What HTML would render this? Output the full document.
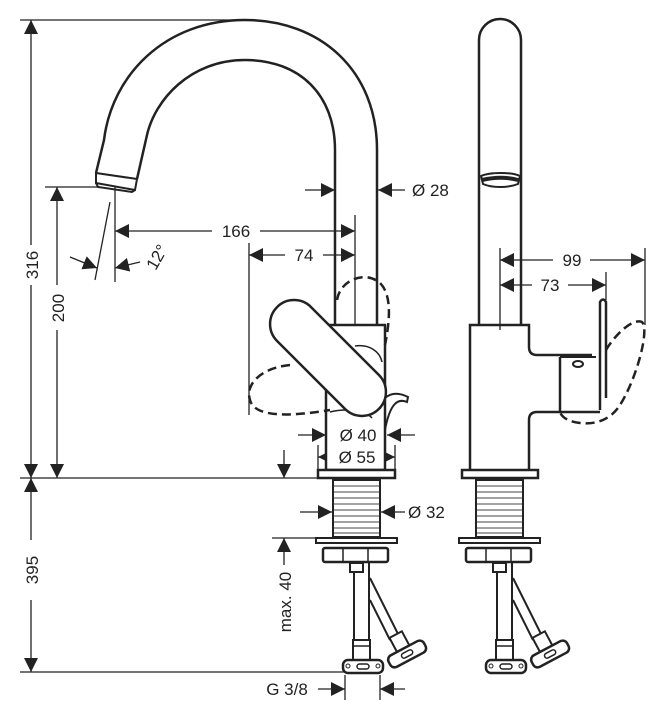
<!DOCTYPE html>
<html><head><meta charset="utf-8"><style>
html,body{margin:0;padding:0;background:#fff;}
svg{display:block;}
text{font-family:"Liberation Sans",sans-serif;font-size:17px;fill:#222;}
</style></head><body>
<svg width="665" height="720" viewBox="0 0 665 720" xmlns="http://www.w3.org/2000/svg">
<defs>
<marker id="a" viewBox="0 0 10 10" refX="10" refY="5" markerWidth="14" markerHeight="14" markerUnits="userSpaceOnUse" orient="auto-start-reverse"><path d="M0,0 L10,5 L0,10 z" fill="#222"/></marker>
<g id="shank">
<rect x="333" y="480" width="47" height="57" fill="#fff" stroke="#222" stroke-width="2"/>
<g stroke="#444" stroke-width="1">
<line x1="334" y1="486" x2="379" y2="486"/><line x1="334" y1="492" x2="379" y2="492"/><line x1="334" y1="498" x2="379" y2="498"/><line x1="334" y1="504" x2="379" y2="504"/><line x1="334" y1="510" x2="379" y2="510"/><line x1="334" y1="516" x2="379" y2="516"/><line x1="334" y1="522" x2="379" y2="522"/><line x1="334" y1="528" x2="379" y2="528"/><line x1="334" y1="533" x2="379" y2="533"/>
</g>
<rect x="316" y="538" width="81" height="5" fill="#fff" stroke="#222" stroke-width="2"/>
<rect x="323" y="548" width="65" height="14" rx="2" fill="#fff" stroke="#222" stroke-width="2.5"/>
<line x1="343" y1="548" x2="343" y2="562" stroke="#222" stroke-width="1.5"/><line x1="368" y1="548" x2="368" y2="562" stroke="#222" stroke-width="1.5"/>
<rect x="350" y="563" width="13" height="9" fill="#fff" stroke="#222" stroke-width="2"/>
<line x1="354" y1="572" x2="354" y2="640" stroke="#222" stroke-width="2"/><line x1="369" y1="563" x2="369" y2="640" stroke="#222" stroke-width="2"/>
<rect x="353" y="640" width="17" height="20" fill="#fff" stroke="#222" stroke-width="2"/>
<line x1="353" y1="646" x2="370" y2="646" stroke="#222" stroke-width="1.5"/>
<rect x="343" y="660" width="40" height="13" rx="5" fill="#fff" stroke="#222" stroke-width="2.5"/>
<rect x="357" y="664" width="12" height="5" rx="2.5" fill="none" stroke="#222" stroke-width="1.5"/>
<circle cx="348" cy="666" r="2" fill="none" stroke="#222"/><circle cx="378" cy="666" r="2" fill="none" stroke="#222"/>
<path d="M370,578 L399,636 M370,600 L390,640" stroke="#222" stroke-width="2" fill="none"/>
<g transform="translate(405,650) rotate(-28)">
<rect x="-8" y="-18" width="14" height="16" fill="#fff" stroke="#222" stroke-width="2"/>
<rect x="-20" y="-2" width="40" height="13" rx="5" fill="#fff" stroke="#222" stroke-width="2.5"/>
<rect x="-6" y="2" width="12" height="5" rx="2.5" fill="none" stroke="#222" stroke-width="1.5"/>
</g>
</g>
</defs>
<g stroke="#222" fill="none" stroke-width="1.3">
<line x1="20" y1="20" x2="250" y2="20"/>
<line x1="31" y1="20" x2="31" y2="245" marker-start="url(#a)"/>
<line x1="31" y1="285" x2="31" y2="478" marker-end="url(#a)"/>
<line x1="45" y1="187" x2="100" y2="187"/>
<line x1="57" y1="187" x2="57" y2="285" marker-start="url(#a)"/>
<line x1="57" y1="330" x2="57" y2="478" marker-end="url(#a)"/>
<line x1="20" y1="478" x2="320" y2="478"/>
<line x1="284" y1="450" x2="284" y2="478" marker-end="url(#a)"/>
<line x1="31" y1="478" x2="31" y2="540" marker-start="url(#a)"/>
<line x1="31" y1="600" x2="31" y2="672" marker-end="url(#a)"/>
<line x1="20" y1="672" x2="345" y2="672"/>
<line x1="272" y1="538" x2="316" y2="538"/>
<line x1="284" y1="538" x2="284" y2="565" marker-start="url(#a)"/>
<line x1="115" y1="187" x2="115" y2="282"/>
<line x1="355" y1="215" x2="355" y2="330"/>
<line x1="249" y1="243" x2="249" y2="415"/>
<line x1="115" y1="231" x2="212" y2="231" marker-start="url(#a)"/>
<line x1="260" y1="231" x2="355" y2="231" marker-end="url(#a)"/>
<line x1="249" y1="255" x2="285" y2="255" marker-start="url(#a)"/>
<line x1="323" y1="255" x2="355" y2="255" marker-end="url(#a)"/>
<line x1="110" y1="202" x2="95" y2="280"/>
<line x1="70" y1="257" x2="97" y2="268" marker-end="url(#a)"/>
<line x1="140" y1="262" x2="115" y2="268" marker-end="url(#a)"/>
<line x1="305" y1="190" x2="335" y2="190" marker-end="url(#a)"/>
<line x1="405" y1="190" x2="378" y2="190" marker-end="url(#a)"/>
<line x1="298" y1="435" x2="326" y2="435" marker-end="url(#a)"/>
<line x1="415" y1="435" x2="387" y2="435" marker-end="url(#a)"/>
<line x1="318" y1="457" x2="332" y2="457" marker-start="url(#a)"/>
<line x1="382" y1="457" x2="395" y2="457" marker-end="url(#a)"/>
<line x1="318" y1="445" x2="318" y2="470"/><line x1="395" y1="445" x2="395" y2="470"/>
<line x1="300" y1="512" x2="332" y2="512" marker-end="url(#a)"/>
<line x1="405" y1="512" x2="381" y2="512" marker-end="url(#a)"/>
<line x1="345" y1="675" x2="345" y2="700"/><line x1="380" y1="675" x2="380" y2="700"/>
<line x1="318" y1="689" x2="345" y2="689" marker-end="url(#a)"/>
<line x1="405" y1="689" x2="380" y2="689" marker-end="url(#a)"/>
<line x1="500" y1="248" x2="500" y2="330"/><line x1="645" y1="248" x2="645" y2="325"/><line x1="606" y1="272" x2="606" y2="300"/>
<line x1="500" y1="260" x2="553" y2="260" marker-start="url(#a)"/>
<line x1="590" y1="260" x2="645" y2="260" marker-end="url(#a)"/>
<line x1="500" y1="285" x2="532" y2="285" marker-start="url(#a)"/>
<line x1="568" y1="285" x2="606" y2="285" marker-end="url(#a)"/>
</g>
<g stroke="#222" fill="none" stroke-width="2.5">
<path d="M377,325 V150 C377,70 320,20 245,20 C165,20 112,75 104,140 L96,173"/>
<path d="M335,325 V150 C335,95 300,60 245,60 C190,60 155,100 147,135 L137,179"/>
<path d="M96,173 L137,179 L135,190 L96,183 Z" stroke-width="2"/>
<path d="M96,183 L98,187 L132,192 L135,190" stroke-width="2"/>
<path d="M326,325 H385 V470 H326 Z" fill="#fff"/>
<path d="M385,398 C392,392 400,393 408,397 L407,402 C398,398 390,403 385,430" stroke-width="2"/>
<rect x="318" y="470" width="77" height="8" fill="#fff"/>
<path d="M330,412 C345,408 365,410 372,418" stroke-width="1.5"/>
<path d="M355,346 C370,344 380,352 382,362" stroke-width="1.5"/>
<g stroke-dasharray="9,5">
<path d="M337,300 C340,280 365,270 380,283 C392,295 390,320 385,345"/>
<path d="M290,365 C260,368 245,385 250,400 C255,420 300,415 330,410"/>
</g>
<rect x="-72" y="-24" width="144" height="48" rx="24" transform="translate(328,358) rotate(45)" fill="#fff"/>
</g>
<g stroke="#222" fill="none" stroke-width="2.5">
<path d="M479,325 V40 A21,21 0 0 1 521,40 V325"/>
<path d="M481,176 C490,172 512,172 520,176 L518,184 C508,188 492,188 483,184 Z" stroke-width="2"/>
<path d="M482,180 C495,177 507,177 518,180" stroke-width="4"/>
<path d="M470,470 V325 H529 V347 Q529,355 537,355 H592"/>
<path d="M600,410 V302 Q603,297 606,302 V398"/>
<path d="M560,357 V412 H600 M560,412 H537 Q529,412 529,420 V470"/>
<path d="M560,357 H596" stroke-width="2"/>
<ellipse cx="578" cy="364" rx="5" ry="3" stroke-width="2"/>
<path d="M606,350 C615,335 632,318 642,322 C650,330 636,380 620,405 C612,418 598,425 580,423 C570,422 562,418 560,412" stroke-dasharray="9,5"/>
<rect x="462" y="470" width="76" height="8" fill="#fff"/>
</g>
<use href="#shank"/>
<use href="#shank" transform="translate(143,0)"/>
<text x="0" y="0" transform="translate(38,265) rotate(-90)" text-anchor="middle">316</text>
<text x="0" y="0" transform="translate(64,308) rotate(-90)" text-anchor="middle">200</text>
<text x="0" y="0" transform="translate(38,570) rotate(-90)" text-anchor="middle">395</text>
<text x="0" y="0" transform="translate(291,602) rotate(-90)" text-anchor="middle">max. 40</text>
<text x="236" y="237" text-anchor="middle">166</text>
<text x="304" y="261" text-anchor="middle">74</text>
<text x="0" y="0" transform="translate(162,260) rotate(-60)" text-anchor="middle">12°</text>
<text x="412" y="196">Ø 28</text>
<text x="358" y="441" text-anchor="middle">Ø 40</text>
<text x="357" y="463" text-anchor="middle">Ø 55</text>
<text x="408" y="518">Ø 32</text>
<text x="287" y="695" text-anchor="middle">G 3/8</text>
<text x="572" y="266" text-anchor="middle">99</text>
<text x="550" y="291" text-anchor="middle">73</text>
</svg>
</body></html>
